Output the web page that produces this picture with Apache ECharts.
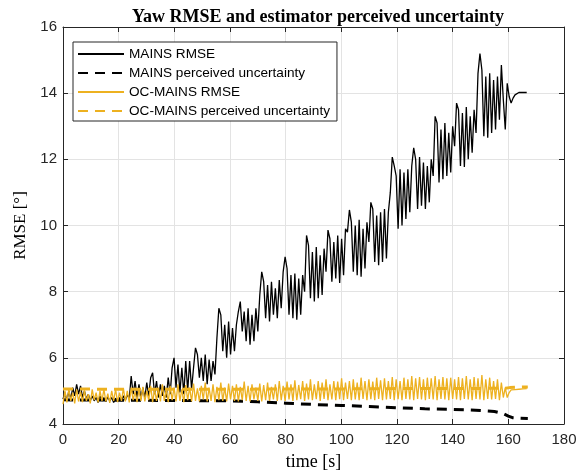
<!DOCTYPE html>
<html>
<head>
<meta charset="utf-8">
<script src="https://cdn.jsdelivr.net/npm/echarts@6/dist/echarts.min.js"></script>
<style>html,body{margin:0;padding:0;background:#fff;}#c{width:587px;height:471px;}</style>
</head>
<body>
<div id="c"></div>
<script>
// sample spacing of the RMSE traces (seconds)
const sampleStep = 0.7;

const mainsRmse = [
4.75,4.95,4.7,5.0,4.75,5.1,4.85,5.2,4.9,5.15,
4.8,5.0,4.75,4.9,4.7,4.85,4.7,4.8,4.65,4.85,
4.7,4.8,4.68,4.82,4.7,4.8,4.65,4.78,4.68,4.8,
4.7,4.85,4.72,4.9,4.75,5.45,4.9,5.3,4.8,5.2,
4.75,5.1,4.8,5.25,4.85,5.4,5.55,4.9,5.3,4.8,
5.2,4.85,5.15,4.8,5.4,4.9,5.7,6.0,5.1,5.8,
4.95,5.7,4.9,5.9,5.0,5.9,5.05,5.7,6.3,6.1,
5.4,6.0,5.3,6.1,5.2,5.95,5.3,5.9,5.5,6.6,
7.5,7.3,6.2,7.0,6.0,7.1,6.1,6.9,6.2,7.0,
7.4,7.7,6.8,7.4,6.5,7.5,6.4,7.3,6.5,7.5,
6.8,7.9,8.6,8.3,7.2,8.2,7.1,8.3,7.3,8.1,
7.2,8.35,7.5,8.6,9.05,8.7,7.3,8.5,7.2,8.55,
7.15,8.4,7.3,8.5,8.0,9.7,9.4,7.8,9.2,7.7,
9.35,7.8,9.1,7.9,9.3,8.6,9.86,9.6,8.3,9.5,
8.4,9.7,8.26,9.6,8.5,9.9,9.8,10.47,10.1,8.6,
10.0,8.5,10.17,8.45,9.9,8.7,10.1,9.5,10.7,10.5,
8.9,10.3,8.8,10.4,8.9,10.5,9.0,10.4,11.0,12.07,
11.8,11.5,9.9,11.7,10.0,11.6,10.2,11.7,10.4,11.8,
12.35,12.0,10.5,12.07,10.6,11.9,10.5,11.8,10.7,12.0,
11.5,13.3,13.1,11.3,12.9,11.4,13.1,11.5,12.8,11.6,
13.0,12.4,13.7,13.5,11.8,13.4,11.77,13.58,12.0,13.3,
12.2,13.5,12.8,14.6,15.2,14.7,12.7,14.5,12.65,14.6,
12.8,14.4,12.9,14.5,13.2,14.85,13.8,12.9,14.3,13.9,
13.7,13.85,13.95,14.0,14.02,14.02,14.02,14.02,14.02
];

const ocRmse = [
4.6,5.0,4.65,5.05,4.7,4.95,4.62,5.05,4.68,4.98,
4.66,5.02,4.7,4.9,4.62,5.05,4.72,4.95,4.65,5.0,
4.7,5.05,4.68,4.92,4.64,5.0,4.7,5.05,4.66,4.95,
4.7,5.08,4.68,5.0,4.65,5.1,4.72,4.98,4.66,5.05,
4.7,5.12,4.68,5.0,4.72,5.15,4.66,5.05,4.7,5.1,
4.68,5.2,4.7,5.05,4.66,5.15,4.72,5.1,4.68,5.2,
4.7,5.05,4.66,5.18,4.72,5.1,4.68,5.22,4.7,5.08,
4.68,5.15,4.74,5.25,4.68,5.1,4.7,5.2,4.66,5.12,
4.72,5.25,4.7,5.1,4.68,5.22,4.74,5.15,4.7,5.2,
4.68,5.12,4.72,5.28,4.7,5.15,4.68,5.2,4.74,5.1,
4.7,5.22,4.68,5.18,4.72,5.25,4.7,5.12,4.74,5.2,
4.7,5.3,4.72,5.15,4.7,5.28,4.74,5.2,4.7,5.32,
4.72,5.18,4.75,5.3,4.7,5.22,4.74,5.35,4.72,5.2,
4.75,5.3,4.7,5.25,4.76,5.35,4.72,5.2,4.74,5.3,
4.72,5.28,4.75,5.38,4.72,5.25,4.76,5.3,4.72,5.35,
4.74,5.25,4.72,5.4,4.76,5.3,4.72,5.35,4.75,5.28,
4.72,5.4,4.76,5.32,4.72,5.38,4.74,5.3,4.76,5.42,
4.72,5.35,4.75,5.3,4.72,5.4,4.76,5.35,4.74,5.45,
4.72,5.38,4.76,5.42,4.74,5.35,4.72,5.4,4.76,5.38,
4.74,5.45,4.72,5.35,4.76,5.42,4.74,5.38,4.72,5.4,
4.76,5.35,4.74,5.42,4.72,5.38,4.76,5.45,4.74,5.35,
4.72,5.42,4.76,5.38,4.74,5.48,4.72,5.35,4.76,5.4,
4.74,5.3,4.76,5.35,4.72,5.25,4.8,5.1,4.8,
4.95,5.03,5.03,5.04,5.04,5.05,5.05,5.06,5.06,5.07
];

const mainsUncT = [0, 20, 40, 60, 70, 80, 90, 100, 110, 120, 130, 140, 150, 155, 158, 160, 161.5, 163, 167];
const mainsUncV = [4.73, 4.72, 4.71, 4.70, 4.67, 4.63, 4.59, 4.56, 4.53, 4.49, 4.46, 4.44, 4.41, 4.38, 4.32, 4.24, 4.19, 4.18, 4.17];

const ocUncT = [0, 20, 40, 60, 80, 100, 120, 140, 155, 159, 160.5, 163, 167];
const ocUncV = [5.06, 5.05, 5.05, 5.05, 5.06, 5.06, 5.07, 5.07, 5.08, 5.08, 5.10, 5.11, 5.12];

const xTicks = {min: 0, max: 180, step: 20};
const yTicks = {min: 4, max: 16, step: 2};

const seriesNames = ['MAINS RMSE', 'MAINS perceived uncertainty', 'OC-MAINS RMSE', 'OC-MAINS perceived uncertainty'];

function sampled(arr) { return arr.map((v, i) => [+(i * sampleStep).toFixed(2), v]); }
function paired(t, v) { return t.map((x, i) => [x, v[i]]); }

const chart = echarts.init(document.getElementById('c'), null, {renderer: 'canvas'});
const axisCol = '#262626';
const gridCol = '#e3e3e3';
const tickFont = {fontFamily: 'Liberation Sans', fontSize: 15, color: '#262626'};

chart.setOption({
  animation: false,
  backgroundColor: '#fff',
  title: {
    text: 'Yaw RMSE and estimator perceived uncertainty',
    left: 313, textAlign: 'center', top: 3,
    textStyle: {fontFamily: 'Liberation Serif', fontWeight: 'bold', fontSize: 18, color: '#000'}
  },
  grid: {left: 63, right: 23, top: 27, bottom: 47, containLabel: false, outerBoundsMode: 'none'},
  legend: {
    orient: 'vertical', left: 73, top: 42,
    itemWidth: 46, itemHeight: 14, itemGap: 5,
    padding: [5, 7, 3, 4],
    backgroundColor: '#fff', borderColor: axisCol, borderWidth: 1,
    itemStyle: {opacity: 0},
    textStyle: {fontFamily: 'Liberation Sans', fontSize: 13.6, color: '#000'},
    data: seriesNames
  },
  xAxis: [{
    type: 'value', min: xTicks.min, max: xTicks.max, interval: xTicks.step,
    name: 'time [s]', nameLocation: 'middle', nameGap: 29,
    nameTextStyle: {fontFamily: 'Liberation Serif', fontSize: 18, color: '#000'},
    axisLine: {onZero: false, lineStyle: {color: axisCol, width: 1}},
    axisTick: {inside: true, length: 5, lineStyle: {color: axisCol}},
    axisLabel: Object.assign({margin: 8}, tickFont),
    splitLine: {show: true, lineStyle: {color: gridCol, width: 1}}
  }, {
    type: 'value', position: 'top', min: xTicks.min, max: xTicks.max, interval: xTicks.step,
    axisLine: {onZero: false, lineStyle: {color: axisCol, width: 1}},
    axisTick: {inside: true, length: 5, lineStyle: {color: axisCol}},
    axisLabel: {show: false}, splitLine: {show: false}
  }],
  yAxis: [{
    type: 'value', min: yTicks.min, max: yTicks.max, interval: yTicks.step,
    name: 'RMSE [°]', nameLocation: 'middle', nameGap: 29, nameRotate: 90,
    nameTextStyle: {fontFamily: 'Liberation Serif', fontSize: 17, color: '#000'},
    axisLine: {show: true, onZero: false, lineStyle: {color: axisCol, width: 1}},
    axisTick: {show: true, inside: true, length: 5, lineStyle: {color: axisCol}},
    axisLabel: Object.assign({margin: 6}, tickFont),
    splitLine: {show: true, lineStyle: {color: gridCol, width: 1}}
  }, {
    type: 'value', position: 'right', min: yTicks.min, max: yTicks.max, interval: yTicks.step,
    axisLine: {show: true, onZero: false, lineStyle: {color: axisCol, width: 1}},
    axisTick: {show: true, inside: true, length: 5, lineStyle: {color: axisCol}},
    axisLabel: {show: false}, splitLine: {show: false}
  }],
  series: [
    {name: seriesNames[0], type: 'line', data: sampled(mainsRmse), showSymbol: false, symbol: 'none',
     lineStyle: {color: '#000', width: 1.3}, itemStyle: {color: '#000'}},
    {name: seriesNames[1], type: 'line', data: paired(mainsUncT, mainsUncV), showSymbol: false, symbol: 'none',
     lineStyle: {color: '#000', width: 3, type: [10, 7]}, itemStyle: {color: '#000'}},
    {name: seriesNames[2], type: 'line', data: sampled(ocRmse), showSymbol: false, symbol: 'none',
     lineStyle: {color: '#EDB120', width: 1.3}, itemStyle: {color: '#EDB120'}},
    {name: seriesNames[3], type: 'line', data: paired(ocUncT, ocUncV), showSymbol: false, symbol: 'none',
     lineStyle: {color: '#EDB120', width: 3, type: [10, 7]}, itemStyle: {color: '#EDB120'}}
  ]
});
</script>
</body>
</html>
